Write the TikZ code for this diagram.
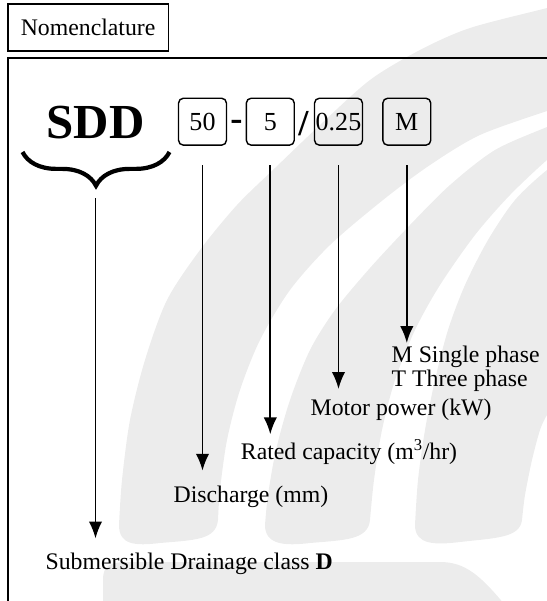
\documentclass[tikz,border=0pt]{standalone}
\usepackage{fontspec}
\setmainfont{Liberation Serif}
\usetikzlibrary{calc,arrows.meta,decorations.pathreplacing}
\definecolor{wmgray}{RGB}{236,236,236}
\newcommand\lblfont{\fontsize{16.9}{17.1}\selectfont}
\newcommand\boxfont{\fontsize{18.5}{20}\selectfont}
\newcommand\sepfont{\fontsize{26}{30}\selectfont\bfseries}
\tikzset{
  numbox/.style={draw,line width=1pt,rounded corners=3.5pt,minimum width=34.1pt,minimum height=33.4pt,inner sep=0pt,font=\boxfont},
  lbl/.style={anchor=west,inner sep=0pt,font=\lblfont},
}

\begin{document}
\begin{tikzpicture}[x=0.025cm,y=-0.025cm,>={Latex[length=12pt,width=9.5pt]},line width=1.3pt]
\useasboundingbox (0,0) rectangle (547,601);
% background swooshes
\begin{scope}
  \clip (0,0) rectangle (547,601);
  \fill[wmgray] plot[smooth] coordinates {(560,4) (547,8) (470,28) (420,50) (370,80) (320,125) (275,168) (237,205) (200,250) (167,300) (145,360) (130,420) (122,480) (119,525)}
    .. controls (119,545) and (135,546) .. (160,543) .. controls (195,540) and (216,540) .. (218,520)
    -- plot[smooth] coordinates {(218,520) (220,490) (227,440) (240,390) (260,340) (290,290) (330,245) (383,200) (430,165) (480,135) (547,111) (560,107)} -- cycle;
  \fill[wmgray] plot[smooth] coordinates {(560,122) (547,127) (495,150) (450,185) (410,225) (370,268) (335,310) (310,350) (290,400) (276,450) (268,495) (265,525)}
    .. controls (265,545) and (285,546) .. (310,543) .. controls (345,540) and (368,540) .. (370,520)
    -- plot[smooth] coordinates {(370,520) (374,480) (382,430) (395,380) (415,330) (440,285) (475,235) (510,195) (547,160) (560,152)} -- cycle;
  \fill[wmgray] plot[smooth] coordinates {(560,165) (547,170) (515,200) (488,240) (465,285) (448,330) (435,380) (425,430) (418,480) (415,525)}
    .. controls (415,545) and (435,545) .. (460,542) .. controls (495,538) and (520,538) .. (522,520)
    -- plot[smooth] coordinates {(522,520) (525,495) (532,460) (540,430) (547,415) (560,395)} -- cycle;
  \fill[wmgray] (103,605) -- (103,580) .. controls (103,565) and (110,562) .. (130,562) -- (440,562)
    .. controls (465,562) and (480,575) .. (505,605) -- cycle;
\end{scope}
\node[draw,line width=1.3pt,minimum width=114.4pt,minimum height=33.6pt,font=\lblfont] (nom) at (88.1,27.4) {Nomenclature};
\draw[line width=1.3pt] (7.7,601) |- (547,58.3);
\coordinate (S0) at (95.5,0);
\node[font=\fontsize{34.8}{40}\selectfont\bfseries,anchor=base] (sdd) at ($(S0)+(0,138.7)$) {SDD};
\draw[decorate,decoration={brace,mirror,amplitude=24pt},line width=3pt] ($(S0)+(-73,152)$) -- ($(S0)+(74,152)$);
\coordinate (sddtop) at ($(S0)+(0,198)$);
\coordinate (sddend) at ($(S0)+(0,538.5)$);
\node[numbox] (b50) at ($(S0)+(107,121.7)$) {50};
\node[numbox] (b5) at ($(b50)+(67.8,0)$) {5};
\node[numbox] (b025) at ($(b5)+(68.2,0)$) {0.25};
\node[numbox] (bM) at ($(b025)+(68.3,0)$) {M};
\node[font=\sepfont] (dash) at ($($(b50)!0.5!(b5)$)+(0,4)$) {-};
\node[font=\sepfont] (slash) at ($($(b5)!0.5!(b025)$)+(-1,1.8)$) {/};
\coordinate (a50) at ($(b50.south)+(0,19.6)$);
\coordinate (a5) at ($(b5.south)+(0,19.6)$);
\coordinate (a025) at ($(b025.south)+(0,19.6)$);
\coordinate (aM) at ($(bM.south)+(0,19.6)$);
\coordinate (e50) at ($(b50)+(0,349)$);
\coordinate (e5) at ($(b5)+(0,312.6)$);
\coordinate (e025) at ($(b025)+(0,267.3)$);
\coordinate (eM) at ($(bM)+(0,221.3)$);
\node[lbl] (cls) at (44.7,564) {Submersible Drainage class \textbf{D}};
\node[lbl] (dis) at (172.7,496.4) {Discharge (mm)};
\node[lbl] (cap) at (240,452.3) {Rated capacity (m\textsuperscript{3}/hr)};
\node[lbl] (pow) at (309.8,409.4) {Motor power (kW)};
\node[lbl,align=left] (pha) at (390.8,368.5) {M Single phase\\T Three phase};
\path[->] (sddtop) edge (sddend) (a50) edge (e50) (a5) edge (e5)
  (a025) edge (e025) (aM) edge (eM);
\end{tikzpicture}
\end{document}
